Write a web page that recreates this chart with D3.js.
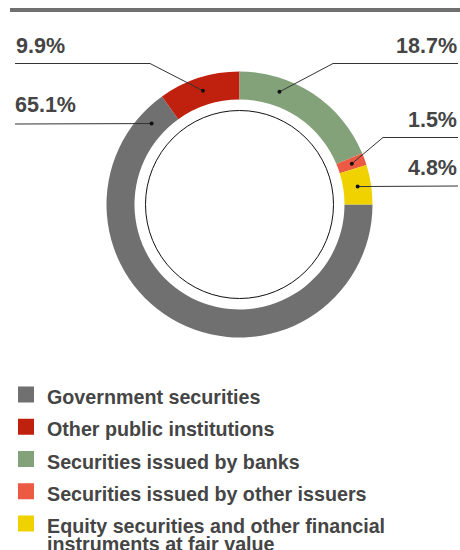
<!DOCTYPE html>
<html>
<head>
<meta charset="utf-8">
<script src="https://cdn.jsdelivr.net/npm/d3@7"></script>
<style>
  html, body { margin: 0; padding: 0; background: #fff; }
  svg { display: block; font-family: "Liberation Sans", Arial, sans-serif; }
</style>
</head>
<body>
<svg id="chart" width="460" height="550"></svg>
<script>
// Portfolio breakdown by type of security (% of total)
const categories = [
  "Government securities",
  "Other public institutions",
  "Securities issued by banks",
  "Securities issued by other issuers",
  "Equity securities and other financial instruments at fair value"
];
const shares = [65.1, 9.9, 18.7, 1.5, 4.8];
const shareLabels = ["65.1%", "9.9%", "18.7%", "1.5%", "4.8%"];
const colors = ["#707070", "#c0200e", "#83a27a", "#ec5a44", "#f0d200"];

const svg = d3.select("#chart");
const textColor = "#454545";

// Header rule
svg.append("rect").attr("x", 10).attr("y", 8).attr("width", 450).attr("height", 4).attr("fill", "#707070");

// Donut
const cx = 239.5, cy = 204.5;
const rInner = 105, rOuter = 133, rThin = 94, rDot = 119.5;

const pie = d3.pie().sort(null).value(d => d)
  .startAngle(Math.PI / 2).endAngle(Math.PI / 2 + 2 * Math.PI);
const arcs = pie(shares);
const arc = d3.arc().innerRadius(rInner).outerRadius(rOuter);

const g = svg.append("g").attr("transform", `translate(${cx},${cy})`);
g.selectAll("path.slice").data(arcs).enter().append("path")
  .attr("class", "slice")
  .attr("d", arc)
  .attr("fill", (d, i) => colors[i]);

g.append("circle").attr("r", rThin).attr("fill", "none").attr("stroke", "#111").attr("stroke-width", 1);

// Callout layout: where along each slice the dot sits, and where its label goes
const callouts = [
  { along: 0.95, side: "left",  tx: 15,  ty: 111.5, ly: 124,   elbow: null },
  { along: 0.5,  side: "left",  tx: 16,  ty: 53,    ly: 63.5,  elbow: 150 },
  { along: 0.29, side: "right", tx: 457, ty: 53,    ly: 63.5,  elbow: 333 },
  { along: 0.5,  side: "right", tx: 457, ty: 127,   ly: 137.5, elbow: 383 },
  { along: 0.5,  side: "right", tx: 457, ty: 175,   ly: 186,   elbow: null }
];

arcs.forEach((a, i) => {
  const c = callouts[i];
  const ang = a.startAngle + (a.endAngle - a.startAngle) * c.along;
  const dx = cx + rDot * Math.sin(ang);
  const dy = cy - rDot * Math.cos(ang);
  const edgeX = c.side === "left" ? 15 : 458;
  const pts = c.elbow === null
    ? [[edgeX, c.ly], [dx, dy]]
    : [[edgeX, c.ly], [c.elbow, c.ly], [dx, dy]];
  svg.append("path")
    .attr("d", d3.line()(pts))
    .attr("fill", "none")
    .attr("stroke", "#333")
    .attr("stroke-width", 1);
  svg.append("circle").attr("cx", dx).attr("cy", dy).attr("r", 2).attr("fill", "#111");
  svg.append("text")
    .attr("x", c.tx).attr("y", c.ty)
    .attr("text-anchor", c.side === "left" ? "start" : "end")
    .attr("font-size", 21.5).attr("font-weight", "bold")
    .attr("fill", textColor)
    .text(shareLabels[i]);
});

// Legend
const legendRows = [
  ["Government securities"],
  ["Other public institutions"],
  ["Securities issued by banks"],
  ["Securities issued by other issuers"],
  ["Equity securities and other financial", "instruments at fair value"]
];
const legendY = d3.scalePoint().domain(d3.range(categories.length)).range([404, 533]);
const legend = svg.append("g");
categories.forEach((cat, i) => {
  const y = legendY(i);
  legend.append("rect").attr("x", 18).attr("y", y - 17.5).attr("width", 16).attr("height", 16).attr("fill", colors[i]);
  const t = legend.append("text")
    .attr("x", 47).attr("y", y)
    .attr("font-size", 19.7).attr("font-weight", "bold")
    .attr("fill", textColor);
  legendRows[i].forEach((line, j) => {
    t.append("tspan").attr("x", 47).attr("dy", j === 0 ? 0 : 17.5).text(line);
  });
});
</script>
</body>
</html>
